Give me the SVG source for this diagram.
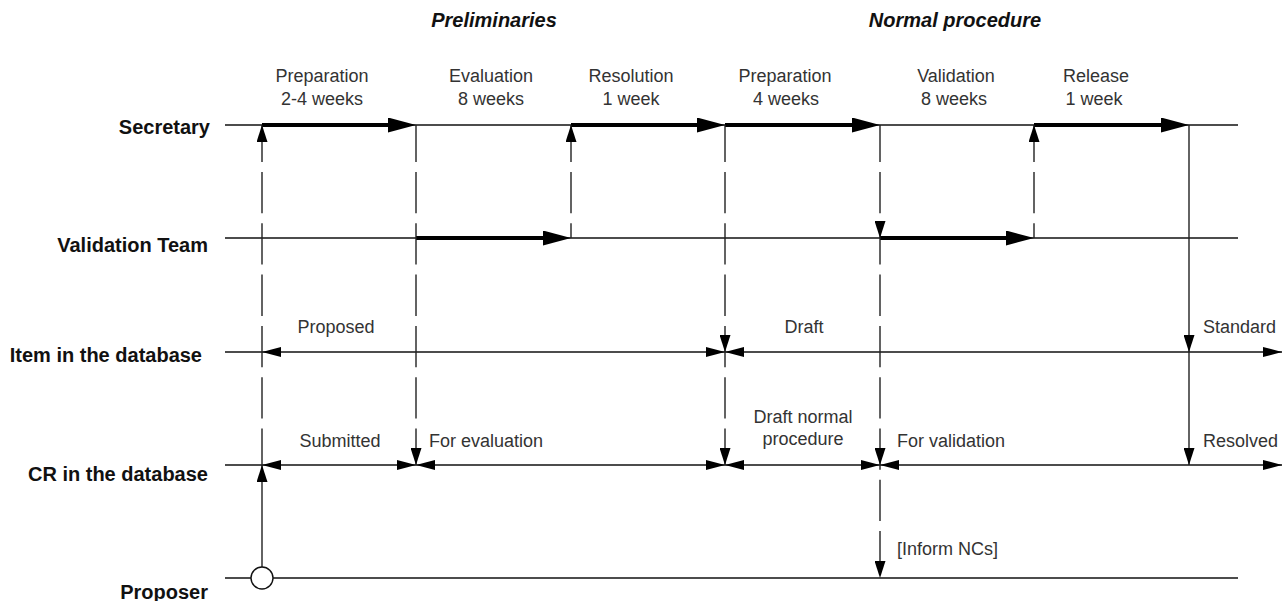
<svg xmlns="http://www.w3.org/2000/svg" width="1287" height="601" viewBox="0 0 1287 601">
  <style>
    .lane { stroke: #111; stroke-width: 1.4; fill: none; }
    .flow { stroke: #000; stroke-width: 4; fill: none; }
    .dash { stroke: #222; stroke-width: 1.4; fill: none; stroke-dasharray: 41.3 10; }
    .solid { stroke: #222; stroke-width: 1.4; fill: none; }
    .role { font-family: "Liberation Sans", Arial, sans-serif; font-size: 20px; font-weight: bold; fill: #111; text-anchor: end; }
    .phase { font-family: "Liberation Sans", Arial, sans-serif; font-size: 20px; font-weight: bold; font-style: italic; fill: #111; text-anchor: middle; }
    .lbl { font-family: "Liberation Sans", Arial, sans-serif; font-size: 18px; fill: #333; }
    .mid { text-anchor: middle; }
  </style>
  <defs>
    <!-- horizontal state arrowheads -->
    <marker id="ah" markerUnits="userSpaceOnUse" viewBox="0 0 19 10" markerWidth="19" markerHeight="10" refX="19" refY="5" orient="auto-start-reverse">
      <path d="M0,0 L19,5 L0,10 Z" fill="#000" stroke="none"/>
    </marker>
    <!-- vertical transition arrowheads -->
    <marker id="av" markerUnits="userSpaceOnUse" viewBox="0 0 17 11" markerWidth="17" markerHeight="11" refX="17" refY="5.5" orient="auto">
      <path d="M0,0 L17,5.5 L0,11 Z" fill="#000" stroke="none"/>
    </marker>
    <!-- heavy activity arrowheads (tip lies 16px beyond the path end) -->
    <marker id="at" markerUnits="userSpaceOnUse" viewBox="0 0 28 15" markerWidth="28" markerHeight="15" refX="12" refY="7.5" orient="auto">
      <path d="M0,0 L28,7.5 L0,15 Z" fill="#000" stroke="none"/>
    </marker>
  </defs>

  <!-- phase titles -->
  <text class="phase" x="494" y="27">Preliminaries</text>
  <text class="phase" x="955" y="27">Normal procedure</text>

  <!-- lanes -->
  <g id="lane-secretary">
    <text class="role" x="210" y="134">Secretary</text>
    <path class="lane" d="M225,125 H1238"/>
  </g>
  <g id="lane-validation-team">
    <text class="role" x="208" y="252">Validation Team</text>
    <path class="lane" d="M225,238 H1238"/>
  </g>
  <g id="lane-item">
    <text class="role" x="202" y="362">Item in the database</text>
    <path class="lane" d="M225,352 H262"/>
    <path class="lane" d="M262,352 H725" marker-start="url(#ah)" marker-end="url(#ah)"/>
    <path class="lane" d="M725,352 H1282" marker-start="url(#ah)" marker-end="url(#ah)"/>
  </g>
  <g id="lane-cr">
    <text class="role" x="208" y="481">CR in the database</text>
    <path class="lane" d="M225,465 H262"/>
    <path class="lane" d="M262,465 H416" marker-start="url(#ah)" marker-end="url(#ah)"/>
    <path class="lane" d="M416,465 H725" marker-start="url(#ah)" marker-end="url(#ah)"/>
    <path class="lane" d="M725,465 H880" marker-start="url(#ah)" marker-end="url(#ah)"/>
    <path class="lane" d="M880,465 H1282" marker-start="url(#ah)" marker-end="url(#ah)"/>
  </g>
  <g id="lane-proposer">
    <text class="role" x="208" y="599">Proposer</text>
    <path class="lane" d="M225,578 H1238"/>
  </g>

  <!-- activity labels -->
  <g id="activity-labels">
    <text class="lbl mid" x="322" y="82">Preparation</text>
    <text class="lbl mid" x="322" y="105">2-4 weeks</text>
    <text class="lbl mid" x="491" y="82">Evaluation</text>
    <text class="lbl mid" x="491" y="105">8 weeks</text>
    <text class="lbl mid" x="631" y="82">Resolution</text>
    <text class="lbl mid" x="631" y="105">1 week</text>
    <text class="lbl mid" x="785" y="82">Preparation</text>
    <text class="lbl mid" x="786" y="105">4 weeks</text>
    <text class="lbl mid" x="956" y="82">Validation</text>
    <text class="lbl mid" x="954" y="105">8 weeks</text>
    <text class="lbl mid" x="1096" y="82">Release</text>
    <text class="lbl mid" x="1094" y="105">1 week</text>
  </g>

  <!-- state labels -->
  <g id="state-labels">
    <text class="lbl mid" x="336" y="333">Proposed</text>
    <text class="lbl mid" x="804" y="333">Draft</text>
    <text class="lbl" x="1203" y="333">Standard</text>
    <text class="lbl mid" x="340" y="447">Submitted</text>
    <text class="lbl" x="429" y="447">For evaluation</text>
    <text class="lbl mid" x="803" y="423">Draft normal</text>
    <text class="lbl mid" x="803" y="445">procedure</text>
    <text class="lbl" x="897" y="447">For validation</text>
    <text class="lbl" x="1203" y="447">Resolved</text>
    <text class="lbl" x="897" y="555">[Inform NCs]</text>
  </g>

  <!-- connectors -->
  <g id="connectors">
    <!-- activities -->
    <path class="flow" d="M262,125 H400" marker-end="url(#at)"/>
    <path class="flow" d="M571,125 H709" marker-end="url(#at)"/>
    <path class="flow" d="M725,125 H864" marker-end="url(#at)"/>
    <path class="flow" d="M1034,125 H1173" marker-end="url(#at)"/>
    <path class="flow" d="M416,238 H555" marker-end="url(#at)"/>
    <path class="flow" d="M880,238 H1018" marker-end="url(#at)"/>

    <!-- transitions -->
    <path class="solid" d="M262,567 V465" marker-end="url(#av)"/>
    <path class="dash" d="M262,465 V125" stroke-dashoffset="4.8" marker-end="url(#av)"/>
    <path class="dash" d="M416,125 V465" stroke-dashoffset="4.3" marker-end="url(#av)"/>
    <path class="dash" d="M571,238 V125" stroke-dashoffset="26.6" marker-end="url(#av)"/>
    <path class="dash" d="M725,125 V352" stroke-dashoffset="4.3" marker-end="url(#av)"/>
    <path class="dash" d="M725,352 V465" stroke-dashoffset="26.1" marker-end="url(#av)"/>
    <path class="dash" d="M880,125 V238" stroke-dashoffset="4.3" marker-end="url(#av)"/>
    <path class="dash" d="M880,238 V465" stroke-dashoffset="14.7" marker-end="url(#av)"/>
    <path class="dash" d="M880,465 V578" stroke-dashoffset="36.5" marker-end="url(#av)"/>
    <path class="dash" d="M1034,238 V125" stroke-dashoffset="26.6" marker-end="url(#av)"/>
    <path class="solid" d="M1189,125 V352" marker-end="url(#av)"/>
    <path class="solid" d="M1189,352 V465" marker-end="url(#av)"/>
  </g>

  <!-- initial node -->
  <g id="start-node">
    <circle cx="262" cy="578" r="11" fill="#fff" stroke="#111" stroke-width="1.4"/>
  </g>
</svg>
